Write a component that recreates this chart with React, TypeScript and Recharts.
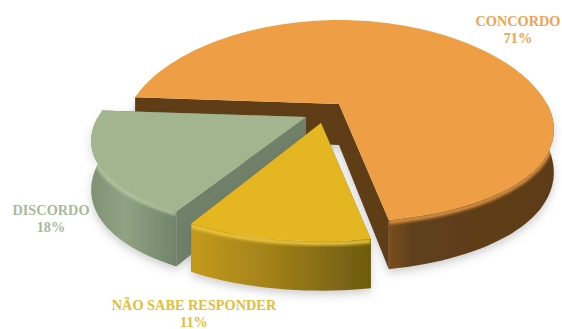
import { PieChart, Pie } from "recharts";

const categories = ["CONCORDO", "DISCORDO", "NÃO SABE RESPONDER"];
const shares = [71, 18, 11];
const data = categories.map((name, i) => ({ name, value: shares[i] }));

// tilt of the disc and how strongly the near edge grows towards the viewer
const TILT = 0.472;
const PERSPECTIVE_Y = 0.17;
const PERSPECTIVE_X = 0.25;
const DEPTH = 41;
const FONT = '"Liberation Serif", serif';

const STYLES: Record<string, any> = {
  CONCORDO: {
    top: "#ee9f45",
    rim: "#e2963f",
    cut: "#5e3c18",
    wall: ["#7b4f20", "#60401b", "#5c3b18"],
    mid: 0.14,
    text: "#eea452",
    nudge: [2, 0],
    flatten: 1,
    thick: 1,
    label: [518, 26],
  },
  DISCORDO: {
    top: "#a3b58f",
    rim: "#b4c5a2",
    cut: "#6f8069",
    wall: ["#7f9272", "#8fa283", "#71846b"],
    mid: 0.4,
    text: "#a9ba9b",
    nudge: [-31, 13],
    flatten: 0.94,
    thick: 1.14,
    label: [51, 215],
  },
  "NÃO SABE RESPONDER": {
    top: "#e4b722",
    rim: "#f0c93c",
    cut: "#8d7114",
    wall: ["#c59a1b", "#a5841a", "#6d5a10"],
    mid: 0.4,
    text: "#e5bc3a",
    nudge: [-16, 19],
    flatten: 1,
    thick: 1,
    label: [194, 310],
  },
};

function SliceShape(props: any) {
  const { cx, cy, outerRadius, startAngle, endAngle, name } = props;
  const st = STYLES[name];
  const id = name.slice(0, 3).replace(/[^A-Z]/g, "x");
  const [ox, oy] = st.nudge;

  const project = (deg: number) => {
    const a = (deg * Math.PI) / 180;
    const X = Math.cos(a);
    const Y = -Math.sin(a);
    const sy = 1 / (1 - PERSPECTIVE_Y * Y);
    const sx = 1 / (1 - PERSPECTIVE_X * Y);
    return {
      x: cx + outerRadius * X * sx + ox,
      y: cy + outerRadius * TILT * st.flatten * Y * sy + oy,
      d: DEPTH * st.thick * sy,
    };
  };

  const arc: { x: number; y: number; d: number }[] = [];
  const steps = Math.ceil(Math.abs(endAngle - startAngle) / 2);
  for (let i = 0; i <= steps; i++) {
    arc.push(project(startAngle + ((endAngle - startAngle) * i) / steps));
  }
  const apex = { x: cx + ox, y: cy + oy };
  const first = arc[0];
  const last = arc[arc.length - 1];
  const line = (pts: { x: number; y: number }[]) =>
    pts.map((p) => `${p.x.toFixed(1)} ${p.y.toFixed(1)}`).join(" L ");

  // only the part of the rim on the viewer's side gets a wall and a highlight
  const front = arc.filter((p) => p.y > apex.y - 2);
  const frontLow = front.map((p) => ({ x: p.x, y: p.y + p.d }));
  const xs = front.map((p) => p.x);
  const x0 = Math.min(...xs);
  const x1 = Math.max(...xs);
  const wallPath = `M ${line(front)} L ${line([...frontLow].reverse())} Z`;

  const cutWall = (p: { x: number; y: number; d: number }) =>
    `M ${line([
      apex,
      p,
      { x: p.x, y: p.y + p.d },
      { x: apex.x, y: apex.y + DEPTH * st.thick },
    ])} Z`;

  return (
    <g>
      <defs>
        <linearGradient
          id={`wall-${id}`}
          gradientUnits="userSpaceOnUse"
          x1={x0}
          x2={x1}
          y1={0}
          y2={0}
        >
          <stop offset="0" stopColor={st.wall[0]} />
          <stop offset={st.mid} stopColor={st.wall[1]} />
          <stop offset="1" stopColor={st.wall[2]} />
        </linearGradient>
        <clipPath id={`clip-${id}`}>
          <path d={wallPath} />
        </clipPath>
        <filter id={`soft-${id}`} x="-20%" y="-20%" width="140%" height="140%">
          <feGaussianBlur stdDeviation="1.6" />
        </filter>
        <filter id={`shadow-${id}`} x="-20%" y="-20%" width="140%" height="140%">
          <feDropShadow dx="0" dy="4" stdDeviation="4" floodColor="#555" floodOpacity="0.28" />
        </filter>
      </defs>
      <g filter={`url(#shadow-${id})`}>
        <path d={cutWall(first)} fill={st.cut} />
        <path d={cutWall(last)} fill={st.cut} />
        <path d={wallPath} fill={`url(#wall-${id})`} />
      </g>
      <g clipPath={`url(#clip-${id})`}>
        <path
          d={`M ${line(front.map((p) => ({ x: p.x, y: p.y + 2 })))}`}
          fill="none"
          stroke={st.rim}
          strokeWidth={4}
          filter={`url(#soft-${id})`}
        />
      </g>
      <path d={`M ${line([apex, ...arc])} Z`} fill={st.top} />
    </g>
  );
}

function SliceLabel(props: any) {
  const { name, value } = props;
  const st = STYLES[name];
  return (
    <text
      x={st.label[0]}
      y={st.label[1]}
      textAnchor="middle"
      fontFamily={FONT}
      fontWeight="bold"
      fontSize={14.3}
      fill={st.text}
    >
      <tspan x={st.label[0]}>{name}</tspan>
      <tspan x={st.label[0]} dy={17}>{`${value}%`}</tspan>
    </text>
  );
}

export default function App() {
  return (
    <div style={{ position: "absolute", left: 0, top: 0, width: 562, height: 329, overflow: "hidden", background: "#fff" }}>
      <PieChart width={562} height={329} margin={{ top: 0, right: 0, bottom: 0, left: 0 }}>
        <Pie
          data={data}
          dataKey="value"
          nameKey="name"
          cx={337}
          cy={104}
          innerRadius={0}
          outerRadius={208}
          startAngle={-79.6}
          endAngle={280.4}
          stroke="none"
          isAnimationActive={false}
          shape={SliceShape}
          label={SliceLabel}
          labelLine={false}
        />
      </PieChart>
    </div>
  );
}
